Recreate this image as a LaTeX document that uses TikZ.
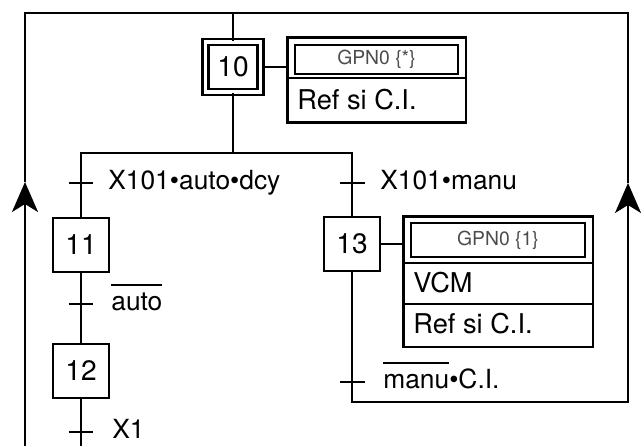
\documentclass[tikz,border=0pt]{standalone}
\usepackage{fontspec}
\setmainfont{TeX Gyre Heros}
\usetikzlibrary{arrows.meta,positioning}

% barre de complement
\newcommand\barre[1]{\leavevmode\vbox{\hrule height 1.1pt\kern 2.8pt\hbox{\vphantom{Xt}#1}}}

\begin{document}
\begin{tikzpicture}
  [x=0.02cm, y=-0.02cm,
   stepbox/.style={rectangle, draw=black, line width=1.6pt, inner sep=0pt,
     minimum width=1.12cm, minimum height=1.08cm, font=\fontsize{16}{18}\selectfont},
   initstep/.style={stepbox, double=white, double distance=0.07cm, line width=1.4pt,
     minimum width=1.1cm, minimum height=1.0cm},
   actbox/.style={rectangle, draw=black, line width=1.7pt, inner sep=0pt, outer sep=0pt},
   gpnbox/.style={rectangle, draw=black, line width=1.2pt, inner sep=0pt,
     text=black!70, font=\fontsize{11}{13}\selectfont},
   acttext/.style={anchor=west, inner sep=0pt, font=\fontsize{15.5}{18}\selectfont},
   cond/.style={inner sep=0pt, text height=0.72em, text depth=0pt,
     font=\fontsize{15}{18}\selectfont},
   link/.style={line width=1.2pt, draw=black},
   transbar/.style={line width=1.2pt, draw=black},
   uparrow/.style={link, -{Stealth[length=0.6cm, width=0.52cm, inset=0.16cm]}}]

  \useasboundingbox (0,0) rectangle (644,446);

  % Etapas
  \node[initstep] (s10) at (233,67) {10};
  \node[stepbox] (s11) at (81,245) {11};
  \node[stepbox] (s12) at (81,371) {12};
  \node[stepbox] (s13) at (352,244) {13};

  % Acciones
  \node[actbox, minimum width=3.58cm, minimum height=1.72cm] (a10) at (376.5,80) {};
  \node[gpnbox, minimum width=3.26cm, minimum height=0.58cm] (g10) at (376.5,59.5) {GPN0 \{*\}};
  \node[acttext] (r10) at (297,100) {Ref si C.I.};
  \draw[link] ([yshift=-0.82cm]a10.north west) -- ([yshift=-0.82cm]a10.north east);

  \node[actbox, minimum width=3.8cm, minimum height=2.62cm] (a13) at (498,281.5) {};
  \node[gpnbox, minimum width=3.48cm, minimum height=0.68cm] (g13) at (498,240) {GPN0 \{1\}};
  \node[acttext] (v13) at (413,283) {VCM};
  \node[acttext] (r13) at (413,324) {Ref si C.I.};
  \draw[link] ([yshift=-0.94cm]a13.north west) -- ([yshift=-0.94cm]a13.north east);
  \draw[link] ([yshift=-1.76cm]a13.north west) -- ([yshift=-1.76cm]a13.north east);

  % Puntos de paso
  \coordinate (tl) at (25,13);
  \coordinate (tr) at (628,13);
  \coordinate (top10) at (233,13);
  \coordinate (al) at (25,182);
  \coordinate (bl) at (25,446);
  \coordinate (ar) at (628,183);
  \coordinate (br) at (628,402);
  \coordinate (c13) at (352,402);
  \coordinate (e12) at (81,446);
  \coordinate (dv) at (233,153);

  % Transiciones
  \coordinate (t1) at (81,183);
  \coordinate (t2) at (81,304);
  \coordinate (t3) at (81,432);
  \coordinate (t4) at (352,183);
  \coordinate (t5) at (352,382);

  % Enlaces
  \draw[link] (top10) -- (s10.north);
  \draw[link] (s10.east) -- (s10.east -| a10.west);
  \draw[link] (s13.east) -- (s13.east -| a13.west);
  \draw[link] (s10.south) -- (dv);
  \draw[link] (s11.north) -- (s11.north |- dv) -- (s13.north |- dv) -- (s13.north);
  \draw[link] (s11) -- (s12);
  \draw[link] (s12.south) -- (e12);
  \draw[uparrow] (s13.south) -- (c13) -- (br) -- (ar);
  \draw[link] (ar) -- (tr) -- (tl) -- (al);
  \draw[uparrow] (bl) -- (al);

  \foreach \t in {t1,t2,t3,t4,t5}
    \draw[transbar] ([xshift=-0.25cm]\t) -- ([xshift=0.25cm]\t);

  % Receptividades
  \node[cond, right=0.54cm of t1] (c1) {X101\textbullet auto\textbullet dcy};
  \node[cond, right=0.6cm of t2] (c2) {\barre{auto}};
  \node[cond, right=0.62cm of t3] (c3) {X1};
  \node[cond, right=0.56cm of t4] (c4) {X101\textbullet manu};
  \node[cond, right=0.62cm of t5] (c5) {\barre{manu}\textbullet C.I.};
\end{tikzpicture}
\end{document}
